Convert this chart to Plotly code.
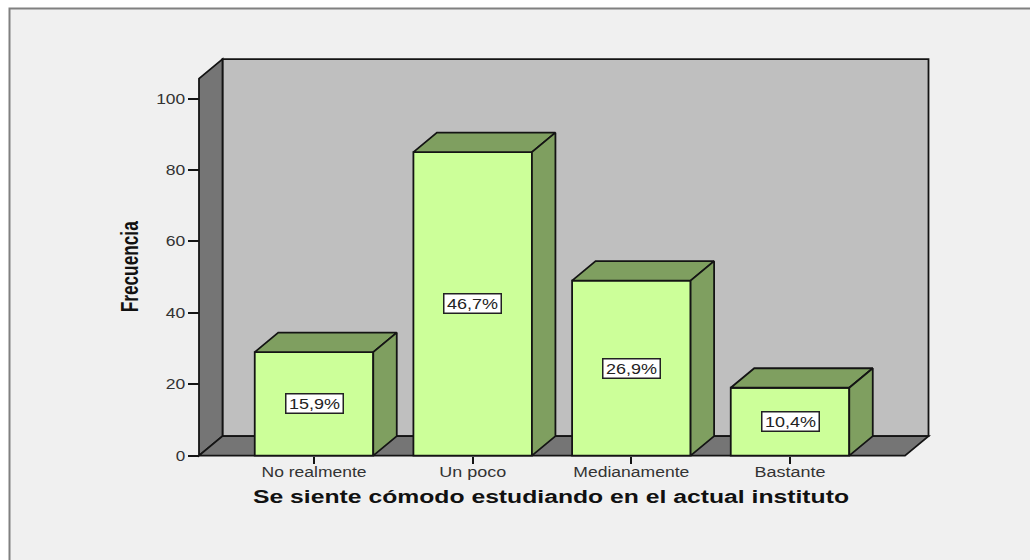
import json
import plotly.graph_objects as go

# --- data ---
categories = ["No realmente", "Un poco", "Medianamente", "Bastante"]
frequencies = [29, 85, 49, 19]
percent_labels = ["15,9%", "46,7%", "26,9%", "10,4%"]
y_ticks = [0, 20, 40, 60, 80, 100]
x_title = "Se siente cómodo estudiando en el actual instituto"
y_title = "Frecuencia"

# --- geometry of the picture (pixels) ---
W, H = 1030, 560
PX_PER_CAT = 158.67
PX_PER_UNIT = 3.57
CAT0_PX = 314.0
ZERO_PX = 455.6
LEFT_PX, RIGHT_PX = 199.0, 905.0
DEPTH_X_PX, DEPTH_Y_PX = 23.5, 19.5
AXIS_TOP = 105.6
BAR_W = 0.747
PAD = 5.0

# The reference's text is stretched sideways: rendered widths in pixels.
text_widths = {
    "No realmente": 105, "Un poco": 67, "Medianamente": 116, "Bastante": 71,
    "0": 9.5, "20": 19.5, "40": 19.5, "60": 19.5, "80": 19.5, "100": 29,
    "15,9%": 51, "46,7%": 51, "26,9%": 51, "10,4%": 51,
    x_title: 596, y_title: 91,
}

def xv(px):
    return (px - CAT0_PX) / PX_PER_CAT

DX = DEPTH_X_PX / PX_PER_CAT
DY = DEPTH_Y_PX / PX_PER_UNIT
XL, XR = xv(LEFT_PX), xv(RIGHT_PX)

EDGE = "#141414"
LW = 1.8
WALL = "#757575"
BACK = "#bfbfbf"
FACE = "#ccff99"
SIDE = "#7f9f60"
FONT = "Liberation Sans"

def poly(xs, ys, fill):
    path = "M " + " L ".join(f"{x},{y}" for x, y in zip(xs, ys)) + " Z"
    return dict(type="path", path=path, xref="x", yref="y", fillcolor=fill,
                line=dict(color=EDGE, width=LW), layer="below")

shapes = [
    # page frame
    dict(type="rect", xref="paper", yref="paper", x0=9.5 / W, x1=1.1, y0=-0.1, y1=1 - 8.5 / H,
         fillcolor="#f0f0f0", line=dict(color="#808080", width=2), layer="below"),
    # back wall, left wall, floor
    poly([XL + DX, XR + DX, XR + DX, XL + DX], [DY, DY, AXIS_TOP + DY, AXIS_TOP + DY], BACK),
    poly([XL, XL + DX, XL + DX, XL], [0, DY, AXIS_TOP + DY, AXIS_TOP], WALL),
    poly([XL, XR, XR + DX, XL + DX], [0, 0, DY, DY], WALL),
]

xpos = list(range(len(categories)))
fig = go.Figure()
fig.add_trace(go.Bar(x=xpos, y=frequencies, width=BAR_W, marker=dict(color=FACE, line=dict(color=EDGE, width=LW)),
                     hoverinfo="skip"))

for x, v in zip(xpos, frequencies):
    l, r = x - BAR_W / 2, x + BAR_W / 2
    # top face
    fig.add_trace(go.Scatter(x=[l, r, r + DX, l + DX, l], y=[v, v, v + DY, v + DY, v], mode="lines", fill="toself",
                             fillcolor=SIDE, line=dict(color=EDGE, width=LW), hoverinfo="skip"))
    # side face
    fig.add_trace(go.Scatter(x=[r, r + DX, r + DX, r, r], y=[0, DY, v + DY, v, 0], mode="lines", fill="toself",
                             fillcolor=SIDE, line=dict(color=EDGE, width=LW), hoverinfo="skip"))

annotations = [
    dict(x=x, y=v / 2, xref="x", yref="y", text=t, showarrow=False, bgcolor="#ffffff", bordercolor="#222222",
         borderwidth=1.5, borderpad=0, width=56, height=18, align="center",
         font=dict(family=FONT, size=15, color="#222222"))
    for x, v, t in zip(xpos, frequencies, percent_labels)
]
annotations += [
    dict(x=551 / W, y=1 - 497 / H, xref="paper", yref="paper", xanchor="center", yanchor="middle",
         text=x_title, showarrow=False,
         font=dict(family=FONT, size=17.5, weight=700, color="#111111")),
    dict(x=129.5 / W, y=1 - 267 / H, xref="paper", yref="paper", xanchor="center", yanchor="middle",
         text=y_title, showarrow=False, textangle=-90,
         font=dict(family=FONT, size=23, weight=700, color="#111111")),
]

fig.update_layout(
    width=W, height=H, margin=dict(l=0, r=0, t=0, b=0, autoexpand=False), paper_bgcolor="#ffffff",
    plot_bgcolor="rgba(0,0,0,0)",
    showlegend=False, shapes=shapes, annotations=annotations,
    xaxis=dict(
        domain=[(LEFT_PX - PAD) / W, (RIGHT_PX + DEPTH_X_PX + PAD) / W],
        range=[xv(LEFT_PX - PAD), xv(RIGHT_PX + DEPTH_X_PX + PAD)],
        anchor="free", position=1 - ZERO_PX / H,
        tickmode="array", tickvals=xpos, ticktext=categories, ticks="outside", ticklen=7, tickwidth=1.5, tickcolor=EDGE,
        ticklabelstandoff=-3,
        tickfont=dict(family=FONT, size=14, color="#333333"), showgrid=False, zeroline=False, showline=False,
    ),
    yaxis=dict(
        domain=[1 - (ZERO_PX + PAD) / H, 1 - (ZERO_PX - (AXIS_TOP * PX_PER_UNIT + DEPTH_Y_PX) - PAD) / H],
        range=[-PAD / PX_PER_UNIT, AXIS_TOP + DY + PAD / PX_PER_UNIT],
        anchor="free", position=LEFT_PX / W,
        tickmode="array", tickvals=y_ticks, ticks="outside", ticklen=11, tickwidth=1.5, tickcolor=EDGE,
        tickfont=dict(family=FONT, size=14, color="#333333"), showgrid=False, zeroline=False, showline=False,
    ),
)

post = (
    "document.body.style.margin='0';document.body.style.overflow='hidden';"
    "var fit=" + json.dumps(text_widths, ensure_ascii=False) + ";"
    "document.querySelectorAll('svg text').forEach(function(t){var w=fit[t.textContent];"
    "if(w){t.setAttribute('textLength',w);t.setAttribute('lengthAdjust','spacingAndGlyphs');}});"
)
fig.write_html("out.html", config={"displayModeBar": False}, post_script=post)
